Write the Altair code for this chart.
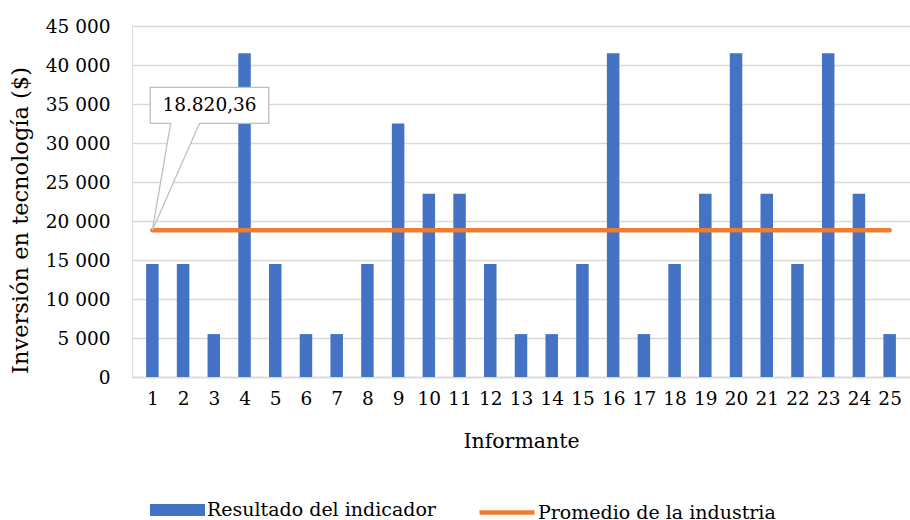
import altair as alt
import pandas as pd

# Inversión en tecnología por informante
informantes = list(range(1, 26))
inversion = [14500, 14500, 5500, 41500, 14500, 5500, 5500, 14500, 32500, 23500,
             23500, 14500, 5500, 5500, 14500, 41500, 5500, 14500, 23500, 41500,
             23500, 14500, 41500, 23500, 5500]
promedio = 18820.36

serie_barras = "Resultado del indicador"
serie_linea = "Promedio de la industria"
azul = "#4472c4"
naranja = "#ed7d31"
fuente = "DejaVu Serif"

# Caja de la etiqueta de dato (en unidades de los ejes)
caja_x = [0.93, 4.79]
caja_y = [32525, 37141]
cuna_x = [1.595, 2.537]

barras_df = pd.DataFrame({"informante": informantes, "inversion": inversion,
                          "serie": serie_barras})
linea_df = pd.DataFrame({"informante": informantes,
                         "promedio": [promedio] * len(informantes),
                         "serie": serie_linea})

# Contorno de la llamada: rectángulo con cuña hacia el primer punto
contorno_df = pd.DataFrame({
    "cx": [cuna_x[1], caja_x[1], caja_x[1], caja_x[0], caja_x[0], cuna_x[0], 1, cuna_x[1]],
    "cy": [caja_y[0], caja_y[0], caja_y[1], caja_y[1], caja_y[0], caja_y[0], promedio, caja_y[0]],
    "orden": list(range(8)),
})
caja_df = pd.DataFrame({"x1": [caja_x[0]], "x2": [caja_x[1]],
                        "y1": [caja_y[0]], "y2": [caja_y[1]],
                        "etiqueta": ["18.820,36"]})

x_scale = alt.Scale(domain=[0.5, 25.5], nice=False, zero=False)
y_scale = alt.Scale(domain=[0, 45000], nice=False)

x_axis = alt.Axis(values=informantes, format="d", title="Informante",
                  grid=False, titlePadding=24, labelPadding=12,
                  labelOverlap=False, labelFlush=False, labelBound=False,
                  domainColor="#d9d9d9", domainWidth=1.3,
                  labelFontSize=18.5, titleFontSize=20.5)
y_axis = alt.Axis(values=list(range(0, 45001, 5000)),
                  labelExpr="replace(format(datum.value, ',d'), ',', ' ')",
                  title="Inversión en tecnología ($)", domain=False,
                  labelOverlap=False, labelFlush=False, labelBound=False,
                  gridColor="#d9d9d9", gridWidth=1.3,
                  labelPadding=22, titlePadding=13, titleY=194,
                  labelFontSize=18.5, titleFontSize=22.5)


def ejes(campo_x, campo_y):
    return dict(x=alt.X(campo_x, scale=x_scale, axis=x_axis),
                y=alt.Y(campo_y, scale=y_scale, axis=y_axis))


# Símbolos de leyenda: rectángulo ancho (barras) y trazo (línea)
simbolo_barra = "M-2.75,-0.6H2.75V0.6H-2.75Z"
simbolo_linea = "M-2.75,0H2.75"

barras = alt.Chart(barras_df).mark_bar(size=12.5).encode(
    **ejes("informante:Q", "inversion:Q"),
    color=alt.Color("serie:N", scale=alt.Scale(domain=[serie_barras], range=[azul]),
                    legend=alt.Legend(title=None, orient="none", legendX=35.5, legendY=474,
                                      symbolType=simbolo_barra, symbolSize=400,
                                      symbolOpacity=1, symbolStrokeWidth=0,
                                      labelOffset=19.5, labelLimit=400, padding=0)),
)

linea = alt.Chart(linea_df).mark_line(strokeWidth=4.5, strokeCap="round").encode(
    **ejes("informante:Q", "promedio:Q"),
    stroke=alt.Stroke("serie:N", scale=alt.Scale(domain=[serie_linea], range=[naranja]),
                      legend=alt.Legend(title=None, orient="none", legendX=362.5, legendY=474,
                                        symbolType=simbolo_linea, symbolSize=400,
                                        symbolStrokeWidth=4.5,
                                        labelOffset=18.5, labelLimit=400, padding=0)),
)

fondo_cuna = alt.Chart(contorno_df).mark_line(fill="white", stroke="#bfbfbf",
                                               strokeWidth=1.3).encode(
    **ejes("cx:Q", "cy:Q"),
    order=alt.Order("orden:Q"),
)

caja = alt.Chart(caja_df).mark_rect(color="white").encode(
    **ejes("x1:Q", "y1:Q"), x2="x2:Q", y2="y2:Q",
)

texto = alt.Chart(caja_df).transform_calculate(
    xc="(datum.x1 + datum.x2) / 2", yc="(datum.y1 + datum.y2) / 2"
).mark_text(font=fuente, fontSize=18.5, color="#000000", baseline="middle").encode(
    **ejes("xc:Q", "yc:Q"),
    text="etiqueta:N",
)

chart = alt.layer(barras, linea, caja, fondo_cuna, texto).properties(
    width=778, height=351,
    autosize=alt.AutoSizeParams(type="none"),
    padding={"left": 132, "top": 26, "right": 0, "bottom": 143},
).configure_view(strokeWidth=0).configure(
    background="white"
).configure_axis(
    labelFont=fuente, labelColor="#000000", ticks=False,
    titleFont=fuente, titleFontWeight="normal", titleColor="#000000",
).configure_legend(
    labelFont=fuente, labelFontSize=19, labelColor="#000000",
)

chart.save("out.html", embed_options={"renderer": "svg", "actions": False})
